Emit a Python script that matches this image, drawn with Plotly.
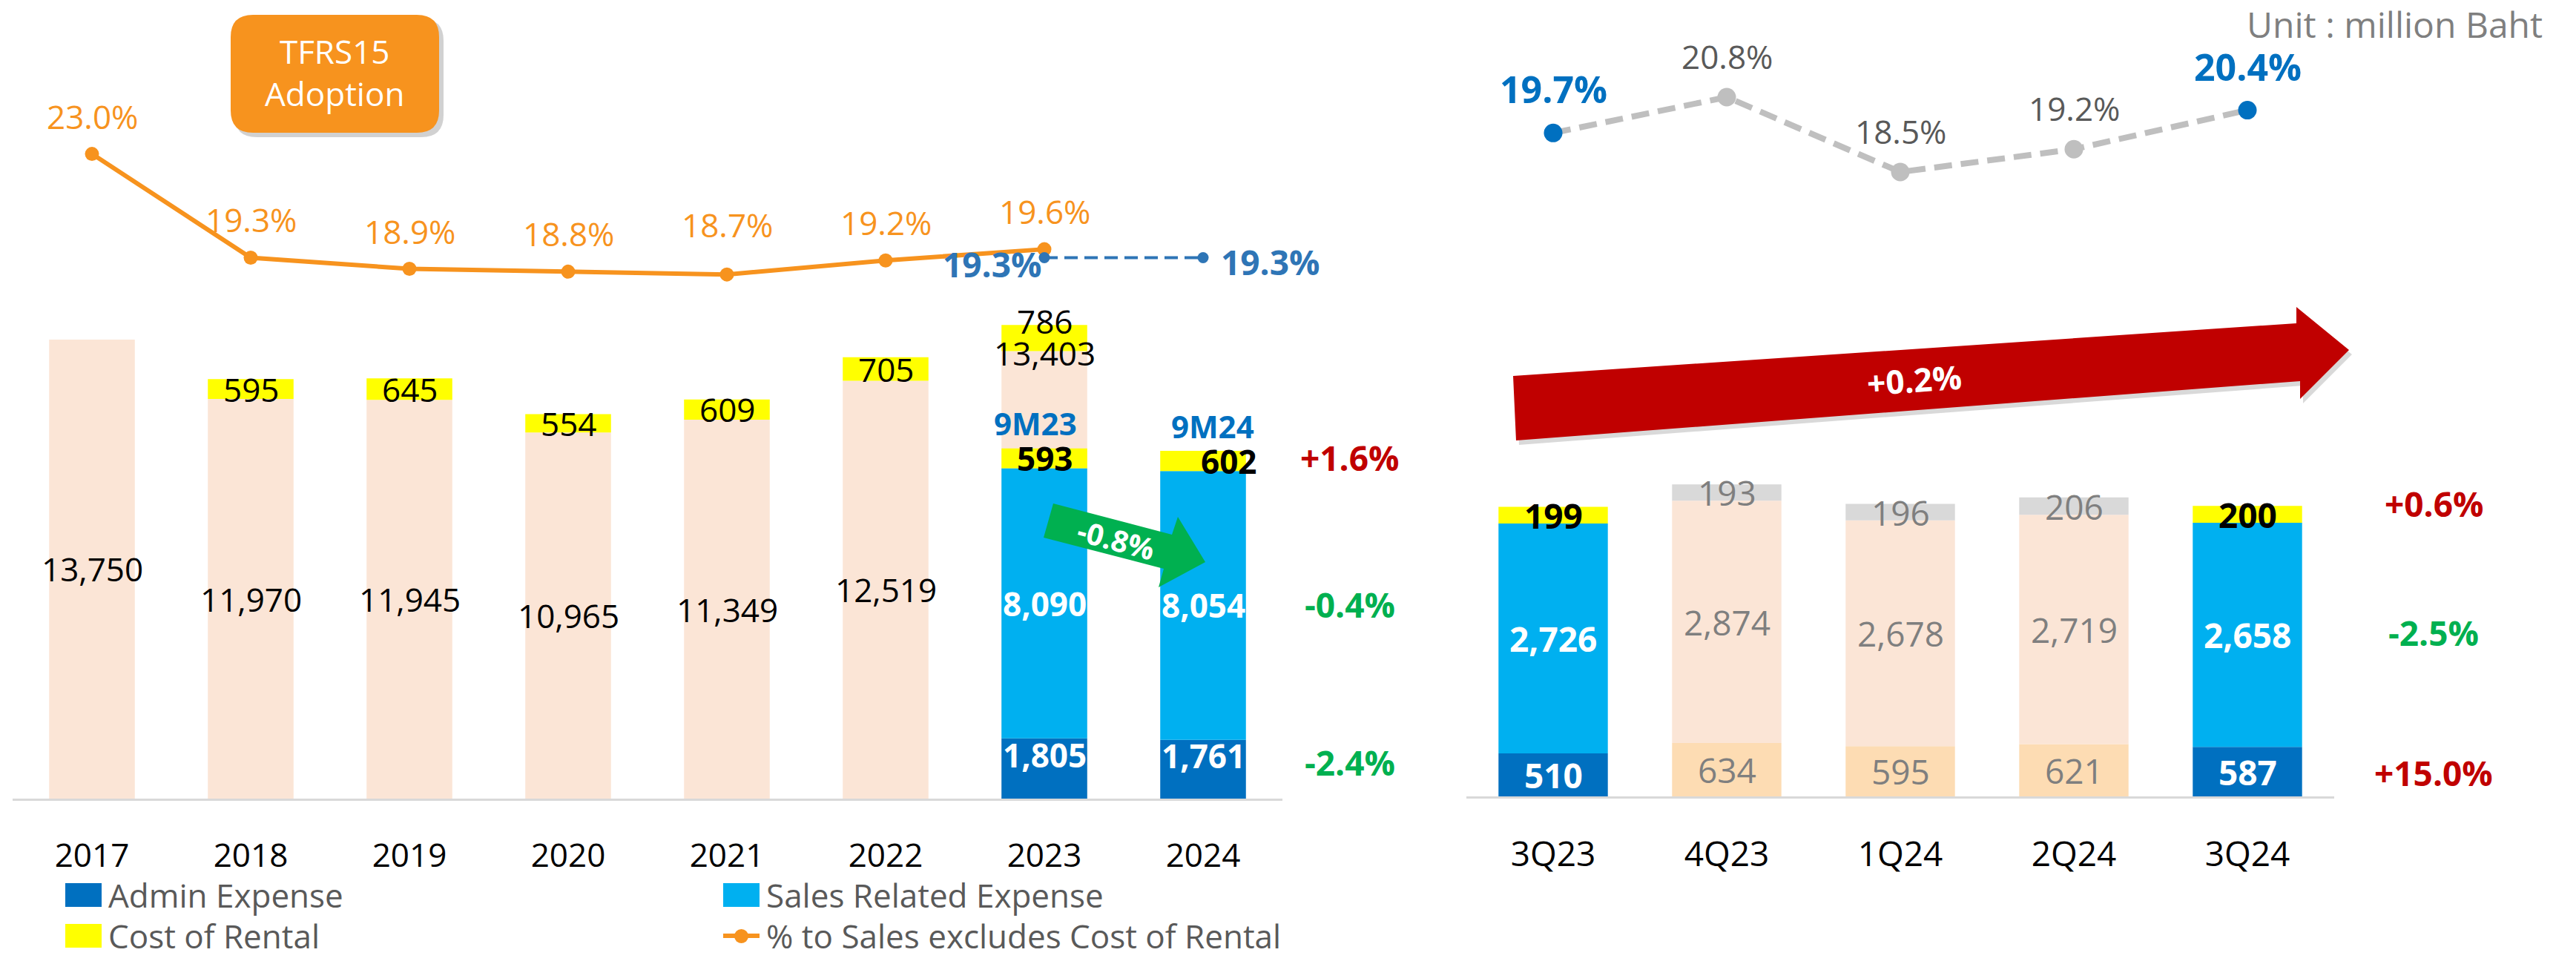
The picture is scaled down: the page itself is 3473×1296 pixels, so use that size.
"""SG&A expense overview: yearly stacks (left) and quarterly stacks (right)."""
import plotly.graph_objects as go

W, H = 3473, 1296
FONT = "Open Sans, Lato, sans-serif"

# ---- yearly data (left) ----
years = ["2017", "2018", "2019", "2020", "2021", "2022", "2023", "2024"]
sga_ex_rental = [13750, 11970, 11945, 10965, 11349, 12519, 13403, None]
rental_full = [None, 595, 645, 554, 609, 705, 786, None]
admin_9m = [None, None, None, None, None, None, 1805, 1761]
sales_9m = [None, None, None, None, None, None, 8090, 8054]
rental_9m = [None, None, None, None, None, None, 593, 602]
pct_full = [23.0, 19.3, 18.9, 18.8, 18.7, 19.2, 19.6, None]
pct_9m = [None, None, None, None, None, None, 19.3, 19.3]
period_9m = ["9M23", "9M24"]
chg_9m = ["+1.6%", "-0.4%", "-2.4%"]   # rental, sales, admin
chg_9m_pct = "-0.8%"

# ---- quarterly data (right) ----
quarters = ["3Q23", "4Q23", "1Q24", "2Q24", "3Q24"]
admin_q = [510, 634, 595, 621, 587]
sales_q = [2726, 2874, 2678, 2719, 2658]
rental_q = [199, 193, 196, 206, 200]
pct_q = [19.7, 20.8, 18.5, 19.2, 20.4]
chg_q = ["+0.6%", "-2.5%", "+15.0%"]   # rental, sales, admin
chg_q_pct = "+0.2%"

ORANGE = "#F7931E"
PEACH = "#FBE5D6"
LIGHT_ORANGE = "#FDDCB3"
YELLOW = "#FFFF00"
DARK_BLUE = "#0070C0"
CYAN = "#00B0F0"
GREY = "#D9D9D9"
RED = "#C00000"
GREEN = "#00B050"
LABEL_BLUE = "#2E75B6"


def nz(v):
    return 0 if v is None else v


def P(x, y):
    """Pixel position -> paper coordinates string for svg paths."""
    return f"{x / W:.5f},{1 - y / H:.5f}"


def polygon(points):
    return "M " + " L ".join(P(x, y) for x, y in points) + " Z"


def rounded_rect(x0, y0, x1, y1, r):
    return ("M " + P(x0 + r, y0) + " L " + P(x1 - r, y0) + " Q " + P(x1, y0) + " " + P(x1, y0 + r)
            + " L " + P(x1, y1 - r) + " Q " + P(x1, y1) + " " + P(x1 - r, y1)
            + " L " + P(x0 + r, y1) + " Q " + P(x0, y1) + " " + P(x0, y1 - r)
            + " L " + P(x0, y0 + r) + " Q " + P(x0, y0) + " " + P(x0 + r, y0) + " Z")


def font(size, color="black", bold=False):
    return dict(family=FONT, size=size, color=color, weight="bold" if bold else "normal")


annotations = []


def note(x, y, text, size, color="black", bold=False, xref="paper", yref="paper",
         xshift=0, yshift=0, xanchor="center", angle=0):
    if xref == "paper":
        x = x / W
    if yref == "paper":
        y = 1 - y / H
    annotations.append(dict(x=x, y=y, xref=xref, yref=yref, text=text, showarrow=False,
                            font=font(size, color, bold), xanchor=xanchor, yanchor="middle",
                            xshift=xshift, yshift=yshift, textangle=angle))


fig = go.Figure()

# ---- left bars ----
base_rental = [nz(a) for a in sga_ex_rental]
base_sales9 = [nz(a) for a in admin_9m]
base_rent9 = [nz(a) + nz(b) for a, b in zip(admin_9m, sales_9m)]
left_bars = [
    (sga_ex_rental, [0] * 8, PEACH),
    (rental_full, base_rental, YELLOW),
    (admin_9m, [0] * 8, DARK_BLUE),
    (sales_9m, base_sales9, CYAN),
    (rental_9m, base_rent9, YELLOW),
]
for vals, base, color in left_bars:
    fig.add_trace(go.Bar(x=years, y=vals, base=base, width=0.54, marker_color=color,
                         marker_line_width=0, xaxis="x", yaxis="y", hoverinfo="skip"))

fig.add_trace(go.Scatter(x=years, y=pct_full, mode="lines+markers", xaxis="x", yaxis="y2",
                         line=dict(color=ORANGE, width=6), marker=dict(size=19, color=ORANGE)))
fig.add_trace(go.Scatter(x=years, y=pct_9m, mode="lines+markers", xaxis="x", yaxis="y2",
                         line=dict(color=LABEL_BLUE, width=4, dash="18px,9px"),
                         marker=dict(size=15, color=LABEL_BLUE)))

# ---- right bars ----
hl = [True, False, False, False, True]
admin_col = [DARK_BLUE if h else LIGHT_ORANGE for h in hl]
sales_col = [CYAN if h else PEACH for h in hl]
rental_col = [YELLOW if h else GREY for h in hl]
right_bars = [
    (admin_q, [0] * 5, admin_col),
    (sales_q, admin_q, sales_col),
    (rental_q, [a + b for a, b in zip(admin_q, sales_q)], rental_col),
]
for vals, base, color in right_bars:
    fig.add_trace(go.Bar(x=quarters, y=vals, base=base, width=0.63, marker_color=color,
                         marker_line_width=0, xaxis="x2", yaxis="y3", hoverinfo="skip"))

fig.add_trace(go.Scatter(x=quarters, y=pct_q, mode="lines+markers", xaxis="x2", yaxis="y4",
                         line=dict(color="#BFBFBF", width=8, dash="24px,12px"),
                         marker=dict(size=25, color=[DARK_BLUE if h else "#BFBFBF" for h in hl])))

# ---- left labels (x given as category index) ----
pct_shift = [51, 51, 51, 51, 67, 51, 51, 51]
for i in range(len(years)):
    v = sga_ex_rental[i]
    r = rental_full[i]
    if v is not None and admin_9m[i] is None:
        note(i, v / 2, f"{v:,}", 44, xref="x", yref="y")
    if r is not None and admin_9m[i] is None:
        note(i, v + r / 2, f"{r:,}", 44, xref="x", yref="y")
    if v is not None and admin_9m[i] is not None:
        note(i, v, f"{v:,}", 44, xref="x", yref="y", yshift=-2)
        note(i, v + r, f"{r:,}", 44, xref="x", yref="y", yshift=5)
    if pct_full[i] is not None:
        note(i, pct_full[i], f"{pct_full[i]:.1f}%", 44, ORANGE, xref="x", yref="y2",
             yshift=pct_shift[i])

for k, i in enumerate([6, 7]):
    a, s, r = admin_9m[i], sales_9m[i], rental_9m[i]
    note(i, a / 2, f"{a:,}", 44, "white", True, "x", "y", yshift=18)
    note(i, a + s / 2, f"{s:,}", 44, "white", True, "x", "y")
    note(i, a + s + r / 2, f"{r:,}", 44, "black", True, "x", "y", xshift=34 * k)
    note(i, a + s + r, period_9m[k], 42, DARK_BLUE, True, "x", "y", yshift=34, xshift=-12 + 25 * k)

note(1337, 356, f"{pct_9m[6]:.1f}%", 46, LABEL_BLUE, True)
note(1712, 353, f"{pct_9m[7]:.1f}%", 46, LABEL_BLUE, True)

for txt, y, col in zip(chg_9m, [617, 815, 1028], [RED, GREEN, GREEN]):
    note(1820, y, txt, 46, col, True)

# ---- right labels ----
for i in range(len(quarters)):
    a, s, r = admin_q[i], sales_q[i], rental_q[i]
    if hl[i]:
        c_in, c_top, bold = "white", "black", True
    else:
        c_in, c_top, bold = "#7F7F7F", "#7F7F7F", False
    note(i, a / 2, f"{a:,}", 46, c_in, bold, "x2", "y3")
    note(i, a + s / 2, f"{s:,}", 46, c_in, bold, "x2", "y3")
    note(i, a + s + r / 2, f"{r:,}", 46, c_top, bold, "x2", "y3")
    if hl[i]:
        note(i, pct_q[i], f"{pct_q[i]:.1f}%", 50, DARK_BLUE, True, "x2", "y4", yshift=59)
    else:
        note(i, pct_q[i], f"{pct_q[i]:.1f}%", 44, "#595959", False, "x2", "y4", yshift=55)

for txt, y, col in zip(chg_q, [679, 853, 1042], [RED, GREEN, RED]):
    note(3281, y, txt, 46, col, True)

note(3430, 33, "Unit : million Baht", 48, "#7F7F7F", xanchor="right")

# ---- arrows, box, legend ----
shapes = [
    dict(type="path", xref="paper", yref="paper", line_width=0, fillcolor=GREEN,
         path=polygon([(1420, 679), (1580, 721), (1588, 697), (1625, 758),
                       (1562, 792), (1569, 767), (1407, 725)])),
    dict(type="path", xref="paper", yref="paper", line_width=0, fillcolor="rgba(0,0,0,0.15)",
         path=polygon([(2044, 513), (3100, 442), (3100, 420), (3171, 478),
                       (3105, 544), (3105, 520), (2048, 600)])),
    dict(type="path", xref="paper", yref="paper", line_width=0, fillcolor=RED,
         path=polygon([(2040, 507), (3096, 436), (3096, 414), (3167, 472),
                       (3101, 538), (3101, 514), (2044, 594)])),
    dict(type="path", xref="paper", yref="paper", line_width=0, fillcolor="rgba(0,0,0,0.18)",
         path=rounded_rect(316, 25, 598, 185, 30)),
    dict(type="path", xref="paper", yref="paper", line_width=0, fillcolor=ORANGE,
         path=rounded_rect(311, 20, 592, 179, 30)),
]
note(1505, 727, chg_9m_pct, 40, "white", True, angle=15)
note(2581, 512, chg_q_pct, 44, "white", True, angle=-4)
note(451, 97, "TFRS15<br>Adoption", 44, "white")

legend_items = [
    (88, 1207, "Admin Expense", DARK_BLUE, "box"),
    (975, 1207, "Sales Related Expense", CYAN, "box"),
    (88, 1262, "Cost of Rental", YELLOW, "box"),
    (975, 1262, "% to Sales excludes Cost of Rental", ORANGE, "line"),
]
for x, y, label, color, kind in legend_items:
    if kind == "box":
        shapes.append(dict(type="rect", xref="paper", yref="paper", line_width=0, fillcolor=color,
                           x0=x / W, x1=(x + 49) / W, y0=1 - (y + 16) / H, y1=1 - (y - 16) / H))
    else:
        shapes.append(dict(type="line", xref="paper", yref="paper", line=dict(color=color, width=6),
                           x0=x / W, x1=(x + 49) / W, y0=1 - y / H, y1=1 - y / H))
        shapes.append(dict(type="circle", xref="paper", yref="paper", line_width=0, fillcolor=color,
                           x0=(x + 15) / W, x1=(x + 34) / W, y0=1 - (y + 10) / H, y1=1 - (y - 9) / H))
    note(x + 56, y, label, 44, "#595959", xanchor="left")

# ---- axes ----
LEFT_BASE, RIGHT_BASE = 1077, 1074
axis_common = dict(type="category", showgrid=False, zeroline=False, showline=True, linecolor=GREY,
                   linewidth=3, ticks="outside", ticklen=36, tickcolor="rgba(0,0,0,0)",
                   fixedrange=True)
fig.update_layout(
    width=W, height=H, margin=dict(l=0, r=0, t=0, b=0),
    paper_bgcolor="white", plot_bgcolor="white", showlegend=False, barmode="overlay",
    font=dict(family=FONT),
    xaxis=dict(domain=[17 / W, 1729 / W], anchor="y", tickfont=font(44), range=[-0.5, 7.5],
               **axis_common),
    yaxis=dict(domain=[1 - LEFT_BASE / H, 1], range=[0, LEFT_BASE / 0.04502], visible=False),
    yaxis2=dict(overlaying="y", range=[0, LEFT_BASE / 37.8], visible=False),
    xaxis2=dict(domain=[1977 / W, 3147 / W], anchor="y3", tickfont=font(46), range=[-0.5, 4.5],
                **axis_common),
    yaxis3=dict(domain=[1 - RIGHT_BASE / H, 1], anchor="x2", range=[0, RIGHT_BASE / 0.1137],
                visible=False),
    yaxis4=dict(overlaying="y3", anchor="x2", range=[20.8 - (RIGHT_BASE - 131) / 43.9, 20.8 + 131 / 43.9],
                visible=False),
    shapes=shapes,
    annotations=annotations,
)

fig.write_html("out.html", config={"displayModeBar": False},
               post_script="document.body.style.margin='0';")
